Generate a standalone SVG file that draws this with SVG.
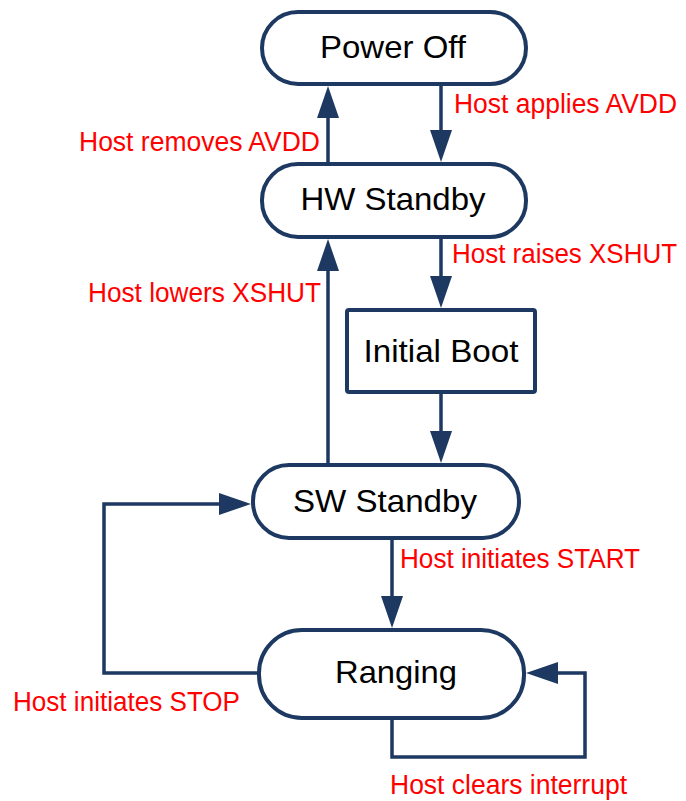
<svg xmlns="http://www.w3.org/2000/svg" width="686" height="801" viewBox="0 0 686 801">
<style>
.node{fill:#fff;stroke:#1d3961;stroke-width:4}
.nt{font-family:"Liberation Sans",Arial,sans-serif;font-size:32px;fill:#000;text-anchor:middle}
.lb{font-family:"Liberation Sans",Arial,sans-serif;font-size:27px;fill:#ff0000}
.c{fill:none;stroke:#1d3961;stroke-width:3.5}
</style>
<defs>
<marker id="ah" markerUnits="userSpaceOnUse" markerWidth="32" markerHeight="24" viewBox="0 0 32 24" refX="26" refY="12" orient="auto">
<path d="M0,1 L32,12 L0,23 z" fill="#1d3961"/>
</marker>
</defs>
<rect width="686" height="801" fill="#fff"/>
<g id="connectors">
<path class="c" d="M328,164 V92" marker-end="url(#ah)"/>
<path class="c" d="M441,86 V156" marker-end="url(#ah)"/>
<path class="c" d="M328,463 V245" marker-end="url(#ah)"/>
<path class="c" d="M441,238 V302" marker-end="url(#ah)"/>
<path class="c" d="M441,393 V457" marker-end="url(#ah)"/>
<path class="c" d="M392,539 V622" marker-end="url(#ah)"/>
<path class="c" d="M258,673 H104 V504 H245" marker-end="url(#ah)"/>
<path class="c" d="M392,719 V757 H585 V673 H532" marker-end="url(#ah)"/>
</g>
<g id="power-off">
<rect class="node" x="262" y="12" width="264" height="72" rx="36"/>
<text class="nt" x="393" y="58" textLength="146" lengthAdjust="spacingAndGlyphs">Power Off</text>
</g>
<g id="hw-standby">
<rect class="node" x="262" y="164" width="264" height="73" rx="36"/>
<text class="nt" x="393" y="210" textLength="185" lengthAdjust="spacingAndGlyphs">HW Standby</text>
</g>
<g id="initial-boot">
<rect class="node" x="347" y="310" width="188" height="82" rx="2"/>
<text class="nt" x="441" y="362" textLength="155" lengthAdjust="spacingAndGlyphs">Initial Boot</text>
</g>
<g id="sw-standby">
<rect class="node" x="253" y="465" width="266" height="73" rx="36"/>
<text class="nt" x="385" y="512" textLength="184" lengthAdjust="spacingAndGlyphs">SW Standby</text>
</g>
<g id="ranging">
<rect class="node" x="259" y="630" width="265" height="88" rx="43"/>
<text class="nt" x="396" y="683" textLength="122" lengthAdjust="spacingAndGlyphs">Ranging</text>
</g>
<g id="labels">
<text class="lb" x="79" y="151" textLength="241" lengthAdjust="spacingAndGlyphs">Host removes AVDD</text>
<text class="lb" x="454" y="113" textLength="223" lengthAdjust="spacingAndGlyphs">Host applies AVDD</text>
<text class="lb" x="88" y="302" textLength="233" lengthAdjust="spacingAndGlyphs">Host lowers XSHUT</text>
<text class="lb" x="452" y="263" textLength="225" lengthAdjust="spacingAndGlyphs">Host raises XSHUT</text>
<text class="lb" x="400" y="568" textLength="240" lengthAdjust="spacingAndGlyphs">Host initiates START</text>
<text class="lb" x="13" y="711" textLength="227" lengthAdjust="spacingAndGlyphs">Host initiates STOP</text>
<text class="lb" x="390" y="794" textLength="237" lengthAdjust="spacingAndGlyphs">Host clears interrupt</text>
</g>
</svg>
